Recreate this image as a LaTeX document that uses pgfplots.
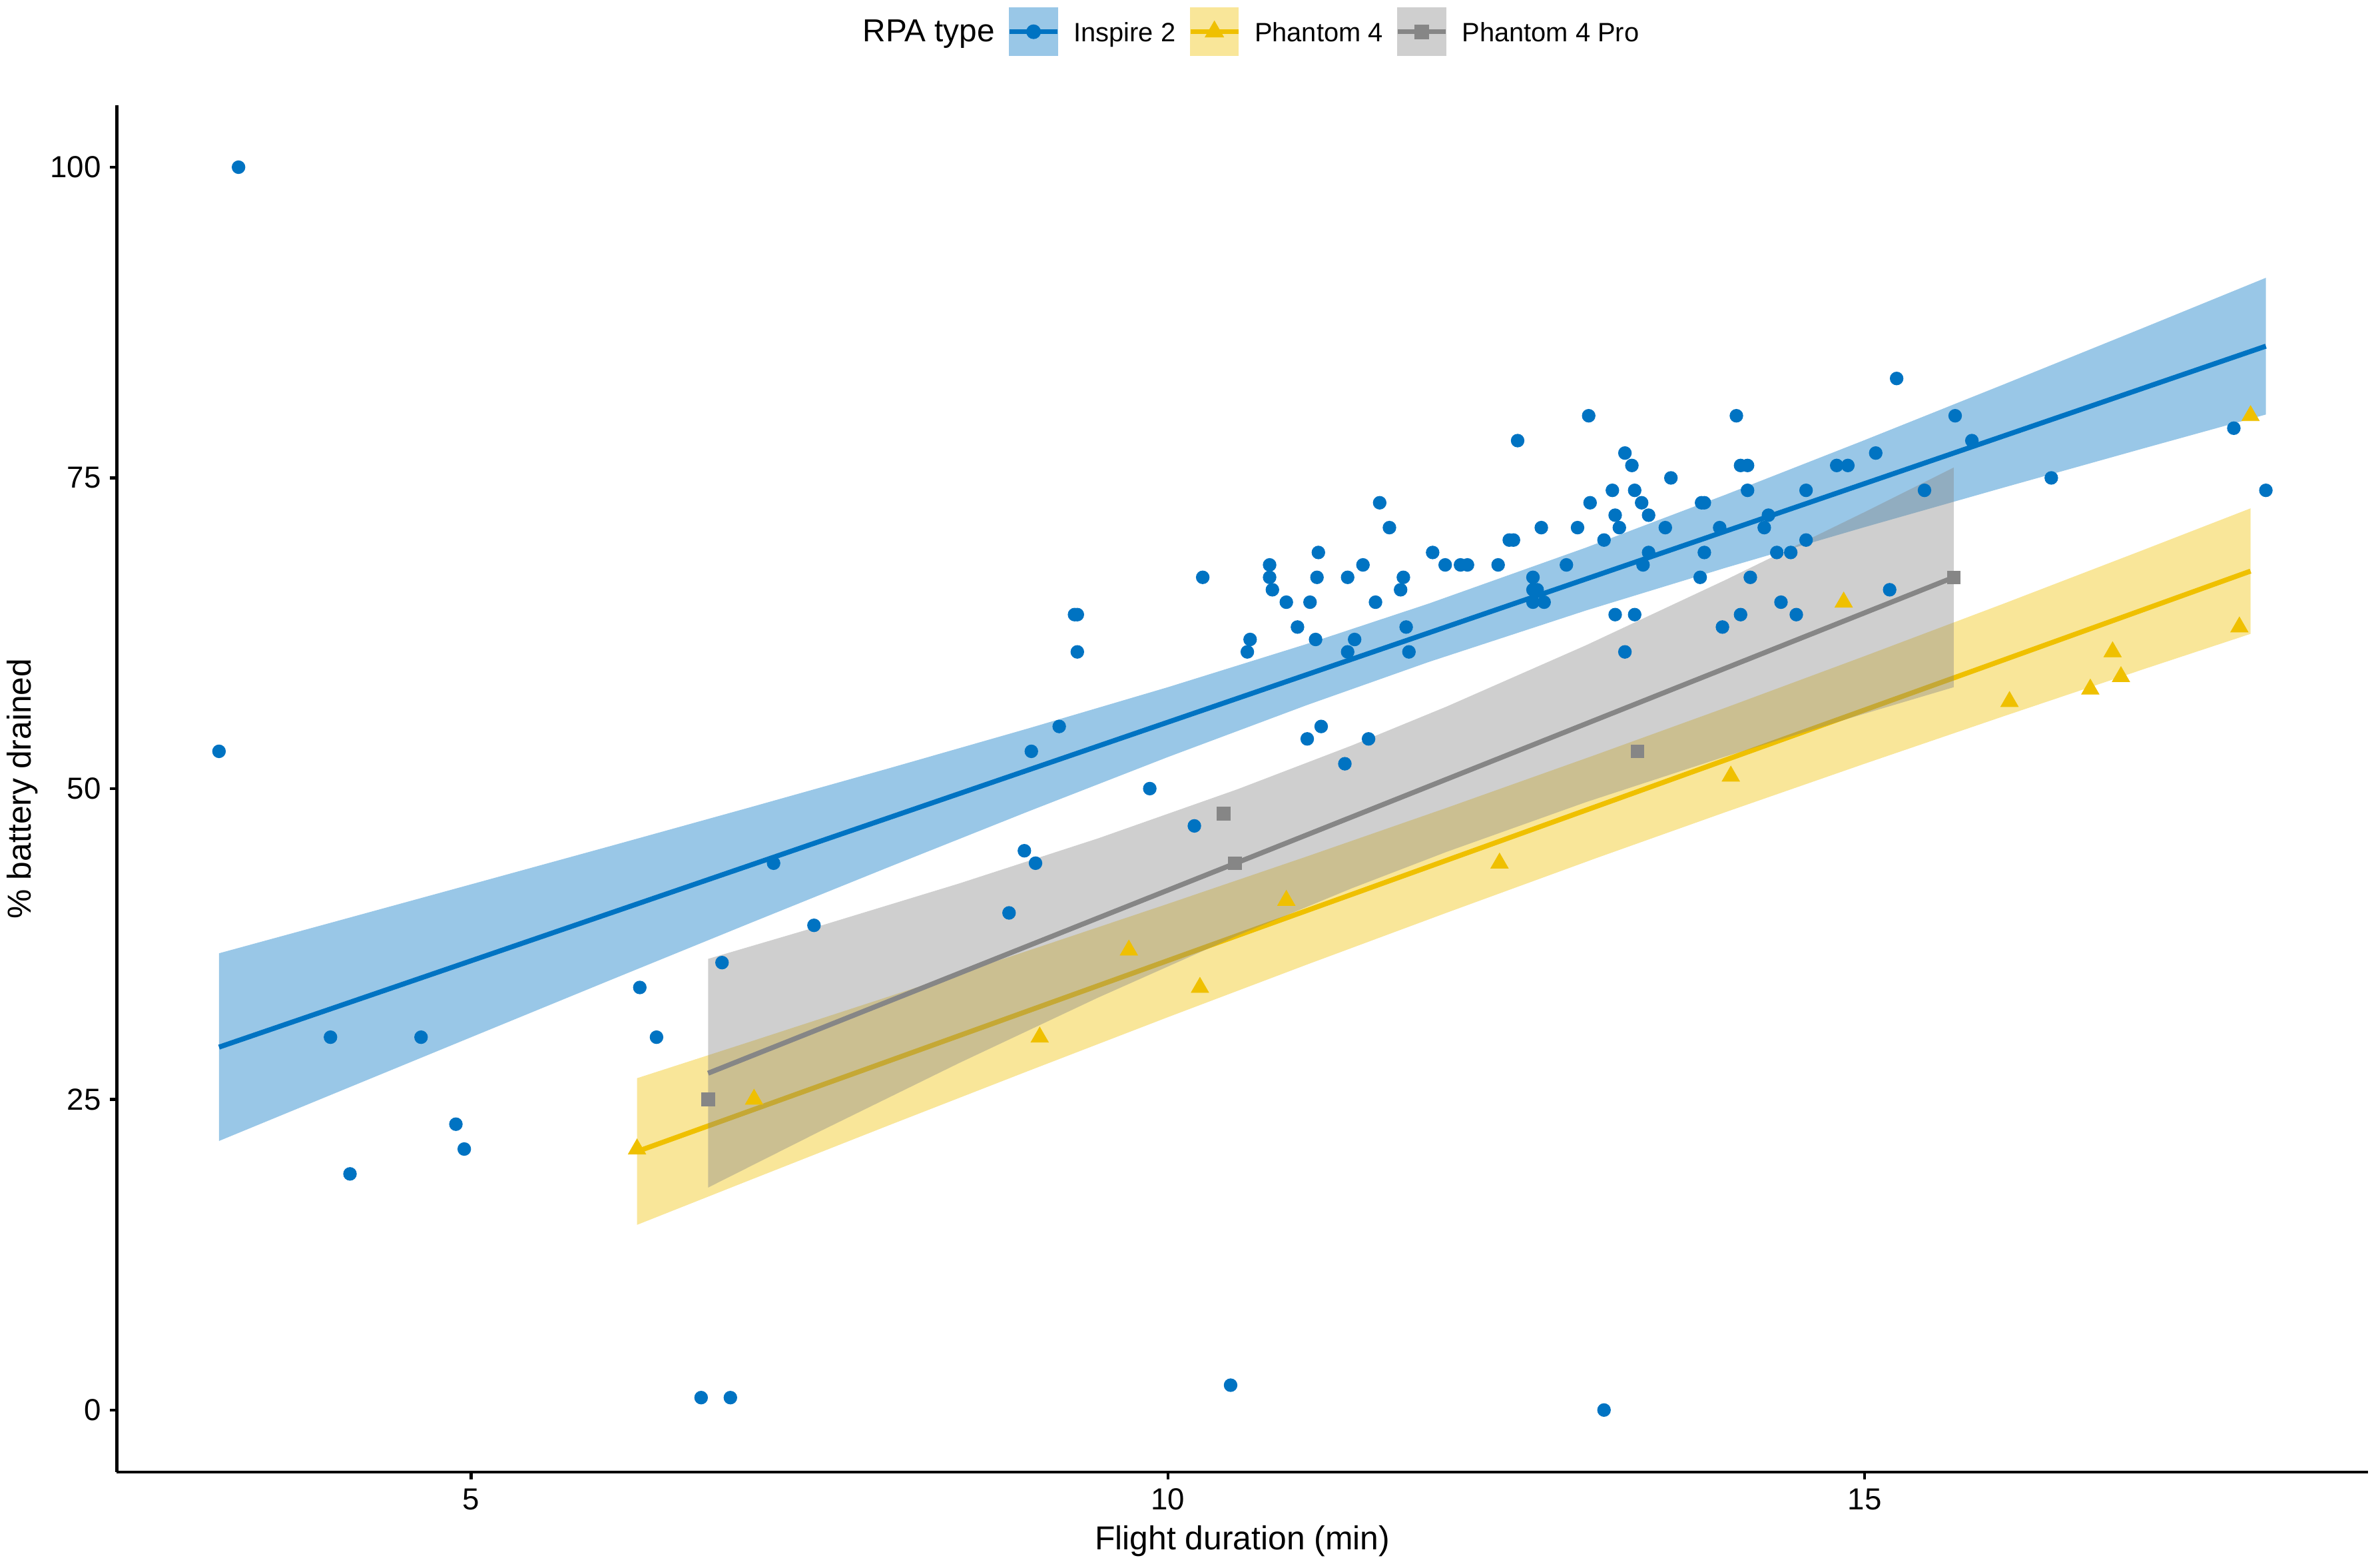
\documentclass[border=0pt]{standalone}
\usepackage{pgfplots}
\pgfplotsset{compat=1.18}
\usepackage{fontspec}
\setmainfont{Liberation Sans}
\definecolor{cA}{HTML}{0073C2}
\definecolor{cB}{HTML}{EFC000}
\definecolor{cC}{HTML}{868686}
\begin{document}
\begin{tikzpicture}
\begin{axis}[
  scale only axis, width=814.4pt, height=494.4pt,
  xmin=2.456, xmax=18.614, ymin=-5, ymax=105,
  axis lines=left, axis line style={-, line width=1.1pt, black},
  xtick={5,10,15}, ytick={0,25,50,75,100},
  tick align=outside, major tick length=2.5pt,
  tick style={line width=1.1pt, black},
  /pgf/number format/assume math mode=true,
  tick label style={font=\fontsize{11}{13}\selectfont},
  xticklabel style={anchor=north, inner sep=0pt, yshift=-3.2pt},
  yticklabel style={anchor=east, inner sep=0pt, xshift=-3.0pt},
  xlabel={Flight duration (min)}, ylabel={\% battery drained},
  label style={font=\fontsize{12}{14}\selectfont, inner sep=0pt},
  xlabel style={at={(axis description cs:0.5,-0.05684)}, anchor=base},
  ylabel style={at={(axis description cs:-0.03807,0.5)}, anchor=base},
  legend columns=-1,
  legend style={draw=none, fill=none, at={(0.5007,1.0536)}, anchor=center,
    inner sep=0pt, font=\fontsize{9.6}{11}\selectfont,
    nodes={inner sep=0pt, text height=0.716em, text depth=0pt},
    /tikz/every odd column/.append style={column sep=5.0pt},
    /tikz/every even column/.append style={column sep=4.5pt},
    /tikz/column 1/.style={column sep=0pt},
    /tikz/column 2/.style={column sep=6.5pt}},
]
% legend
\addlegendimage{empty legend}
\addlegendentry{\fontsize{11.5}{13}\selectfont RPA type}
\addlegendimage{legend image code/.code={
  \fill[cA!40] (0pt,-8.65pt) rectangle (17.3pt,8.65pt);
  \draw[cA, line width=1.8pt] (0pt,0pt) -- (17.3pt,0pt);
  \fill[cA] (8.65pt,0pt) circle[radius=2.45pt];}}
\addlegendentry{Inspire 2}
\addlegendimage{legend image code/.code={
  \fill[cB!40] (0pt,-8.65pt) rectangle (17.3pt,8.65pt);
  \draw[cB, line width=1.8pt] (0pt,0pt) -- (17.3pt,0pt);
  \fill[cB] (8.65pt,3.7pt) -- (11.85pt,-1.85pt) -- (5.45pt,-1.85pt) -- cycle;}}
\addlegendentry{Phantom 4}
\addlegendimage{legend image code/.code={
  \fill[cC!40] (0pt,-8.65pt) rectangle (17.3pt,8.65pt);
  \draw[cC, line width=1.8pt] (0pt,0pt) -- (17.3pt,0pt);
  \fill[cC] (6.2pt,-2.45pt) rectangle (11.1pt,2.45pt);}}
\addlegendentry{Phantom 4 Pro}

% points: Inspire 2
\addplot[forget plot, only marks, color=cA, mark=*, mark size=2.2pt, mark options={solid, draw=cA, fill=cA, line width=0.5pt}] coordinates {
(3.19,53) (3.33,100) (3.99,30) (4.13,19) (4.64,30) (4.89,23) (4.95,21) (6.21,34) (6.33,30) (6.65,1)
(6.80,36) (6.86,1) (7.17,44) (7.46,39) (8.86,40) (8.97,45) (9.02,53) (9.05,44) (9.22,55) (9.33,64)
(9.35,64) (9.35,61) (9.87,50) (10.19,47) (10.25,67) (10.45,2) (10.57,61) (10.59,62) (10.73,68) (10.73,67)
(10.75,66) (10.85,65) (10.93,63) (11.00,54) (11.02,65) (11.06,62) (11.07,67) (11.08,69) (11.10,55) (11.27,52)
(11.29,61) (11.29,67) (11.34,62) (11.40,68) (11.44,54) (11.49,65) (11.52,73) (11.59,71) (11.67,66) (11.69,67)
(11.71,63) (11.73,61) (11.90,69) (11.99,68) (12.10,68) (12.15,68) (12.37,68) (12.45,70) (12.48,70) (12.51,78)
(12.62,67) (12.62,66) (12.65,66) (12.62,65) (12.70,65) (12.68,71) (12.86,68) (12.94,71) (13.02,80) (13.03,73)
(13.13,70) (13.13,0) (13.19,74) (13.21,72) (13.21,64) (13.24,71) (13.28,77) (13.28,61) (13.33,76) (13.35,74)
(13.35,64) (13.40,73) (13.41,68) (13.45,69) (13.45,72) (13.57,71) (13.61,75) (13.82,67) (13.83,73) (13.85,69)
(13.85,73) (13.96,71) (13.98,63) (14.08,80) (14.11,64) (14.11,76) (14.16,74) (14.16,76) (14.18,67) (14.28,71)
(14.31,72) (14.37,69) (14.40,65) (14.47,69) (14.51,64) (14.58,70) (14.58,74) (14.80,76) (14.88,76) (15.08,77)
(15.18,66) (15.23,83) (15.43,74) (15.65,80) (15.77,78) (16.34,75) (17.65,79) (17.88,74)
};
% points: Phantom 4
\addplot[forget plot, only marks, color=cB, mark=triangle*, mark size=3.65pt, mark options={solid, draw=cB, fill=cB, line width=0.2pt}] coordinates {
(6.19,21) (7.03,25) (9.08,30) (9.72,37) (10.23,34) (10.85,41) (12.38,44) (14.04,51) (14.85,65) (16.04,57)
(16.62,58) (16.78,61) (16.84,59) (17.69,63) (17.77,80)
};
% points: Phantom 4 Pro
\addplot[forget plot, only marks, color=cC, mark=square*, mark size=2.35pt, mark options={solid, draw=cC, fill=cC, line width=0.2pt}] coordinates {
(6.70,25) (10.40,48) (10.48,44) (13.37,53) (15.64,67)
};

% Inspire 2 band and fit
\addplot[forget plot, draw=none, fill=cA, fill opacity=0.4] coordinates {
(3.19,21.65) (4,25.39) (5,30.00) (6,34.60) (7,39.17) (8,43.70) (9,48.17) (10,52.54) (11,56.73) (11.87,60.18)
(13,64.33) (14,67.76) (15,71.04) (16,74.23) (17,77.37) (17.88,80.10)
(17.88,91.10) (17,87.07) (16,82.53) (15,78.04) (14,73.64) (13,69.39) (11.87,64.88) (11,61.65) (10,58.16)
(9,54.85) (8,51.64) (7,48.49) (6,45.38) (5,42.30) (4,39.23) (3.19,36.75)
};
\addplot[forget plot, cA, line width=1.8pt] coordinates {(3.19,29.2) (17.88,85.6)};

% Phantom 4 band and fit
\addplot[forget plot, draw=none, fill=cB, fill opacity=0.4] coordinates {
(6.19,14.90) (7,18.50) (8,22.92) (9,27.29) (10,31.61) (11,35.85) (12,40.01) (13.07,44.39) (14,48.10)
(15,52.00) (16,55.83) (17,59.60) (17.77,62.45)
(17.77,72.55) (17,69.20) (16,64.89) (15,60.66) (14,56.50) (13.07,52.72) (12,48.45) (11,44.55) (10,40.73)
(9,36.97) (8,33.28) (7,29.63) (6.19,26.70)
};
\addplot[forget plot, cB, line width=1.8pt] coordinates {(6.19,20.8) (17.77,67.5)};

% Phantom 4 Pro band and fit
\addplot[forget plot, draw=none, fill=cC, fill opacity=0.4] coordinates {
(6.70,17.90) (7.5,22.41) (8.5,27.91) (9.5,33.19) (10.5,38.18) (11.32,41.98) (12,44.91) (13,48.91)
(14,52.58) (15,56.03) (15.64,58.16)
(15.64,75.84) (15,72.25) (14,66.78) (13,61.53) (12,56.60) (11.32,53.47) (10.5,49.95) (9.5,46.00)
(8.5,42.36) (7.5,38.94) (6.70,36.30)
};
\addplot[forget plot, cC, line width=1.8pt] coordinates {(6.70,27.1) (15.64,67.0)};
\end{axis}
\pgfresetboundingbox
\path[use as bounding box] ([shift={(-42.23pt,-33.73pt)}]current axis.south west) rectangle ([shift={(4.3pt,38.0pt)}]current axis.north east);
\end{tikzpicture}
\end{document}
